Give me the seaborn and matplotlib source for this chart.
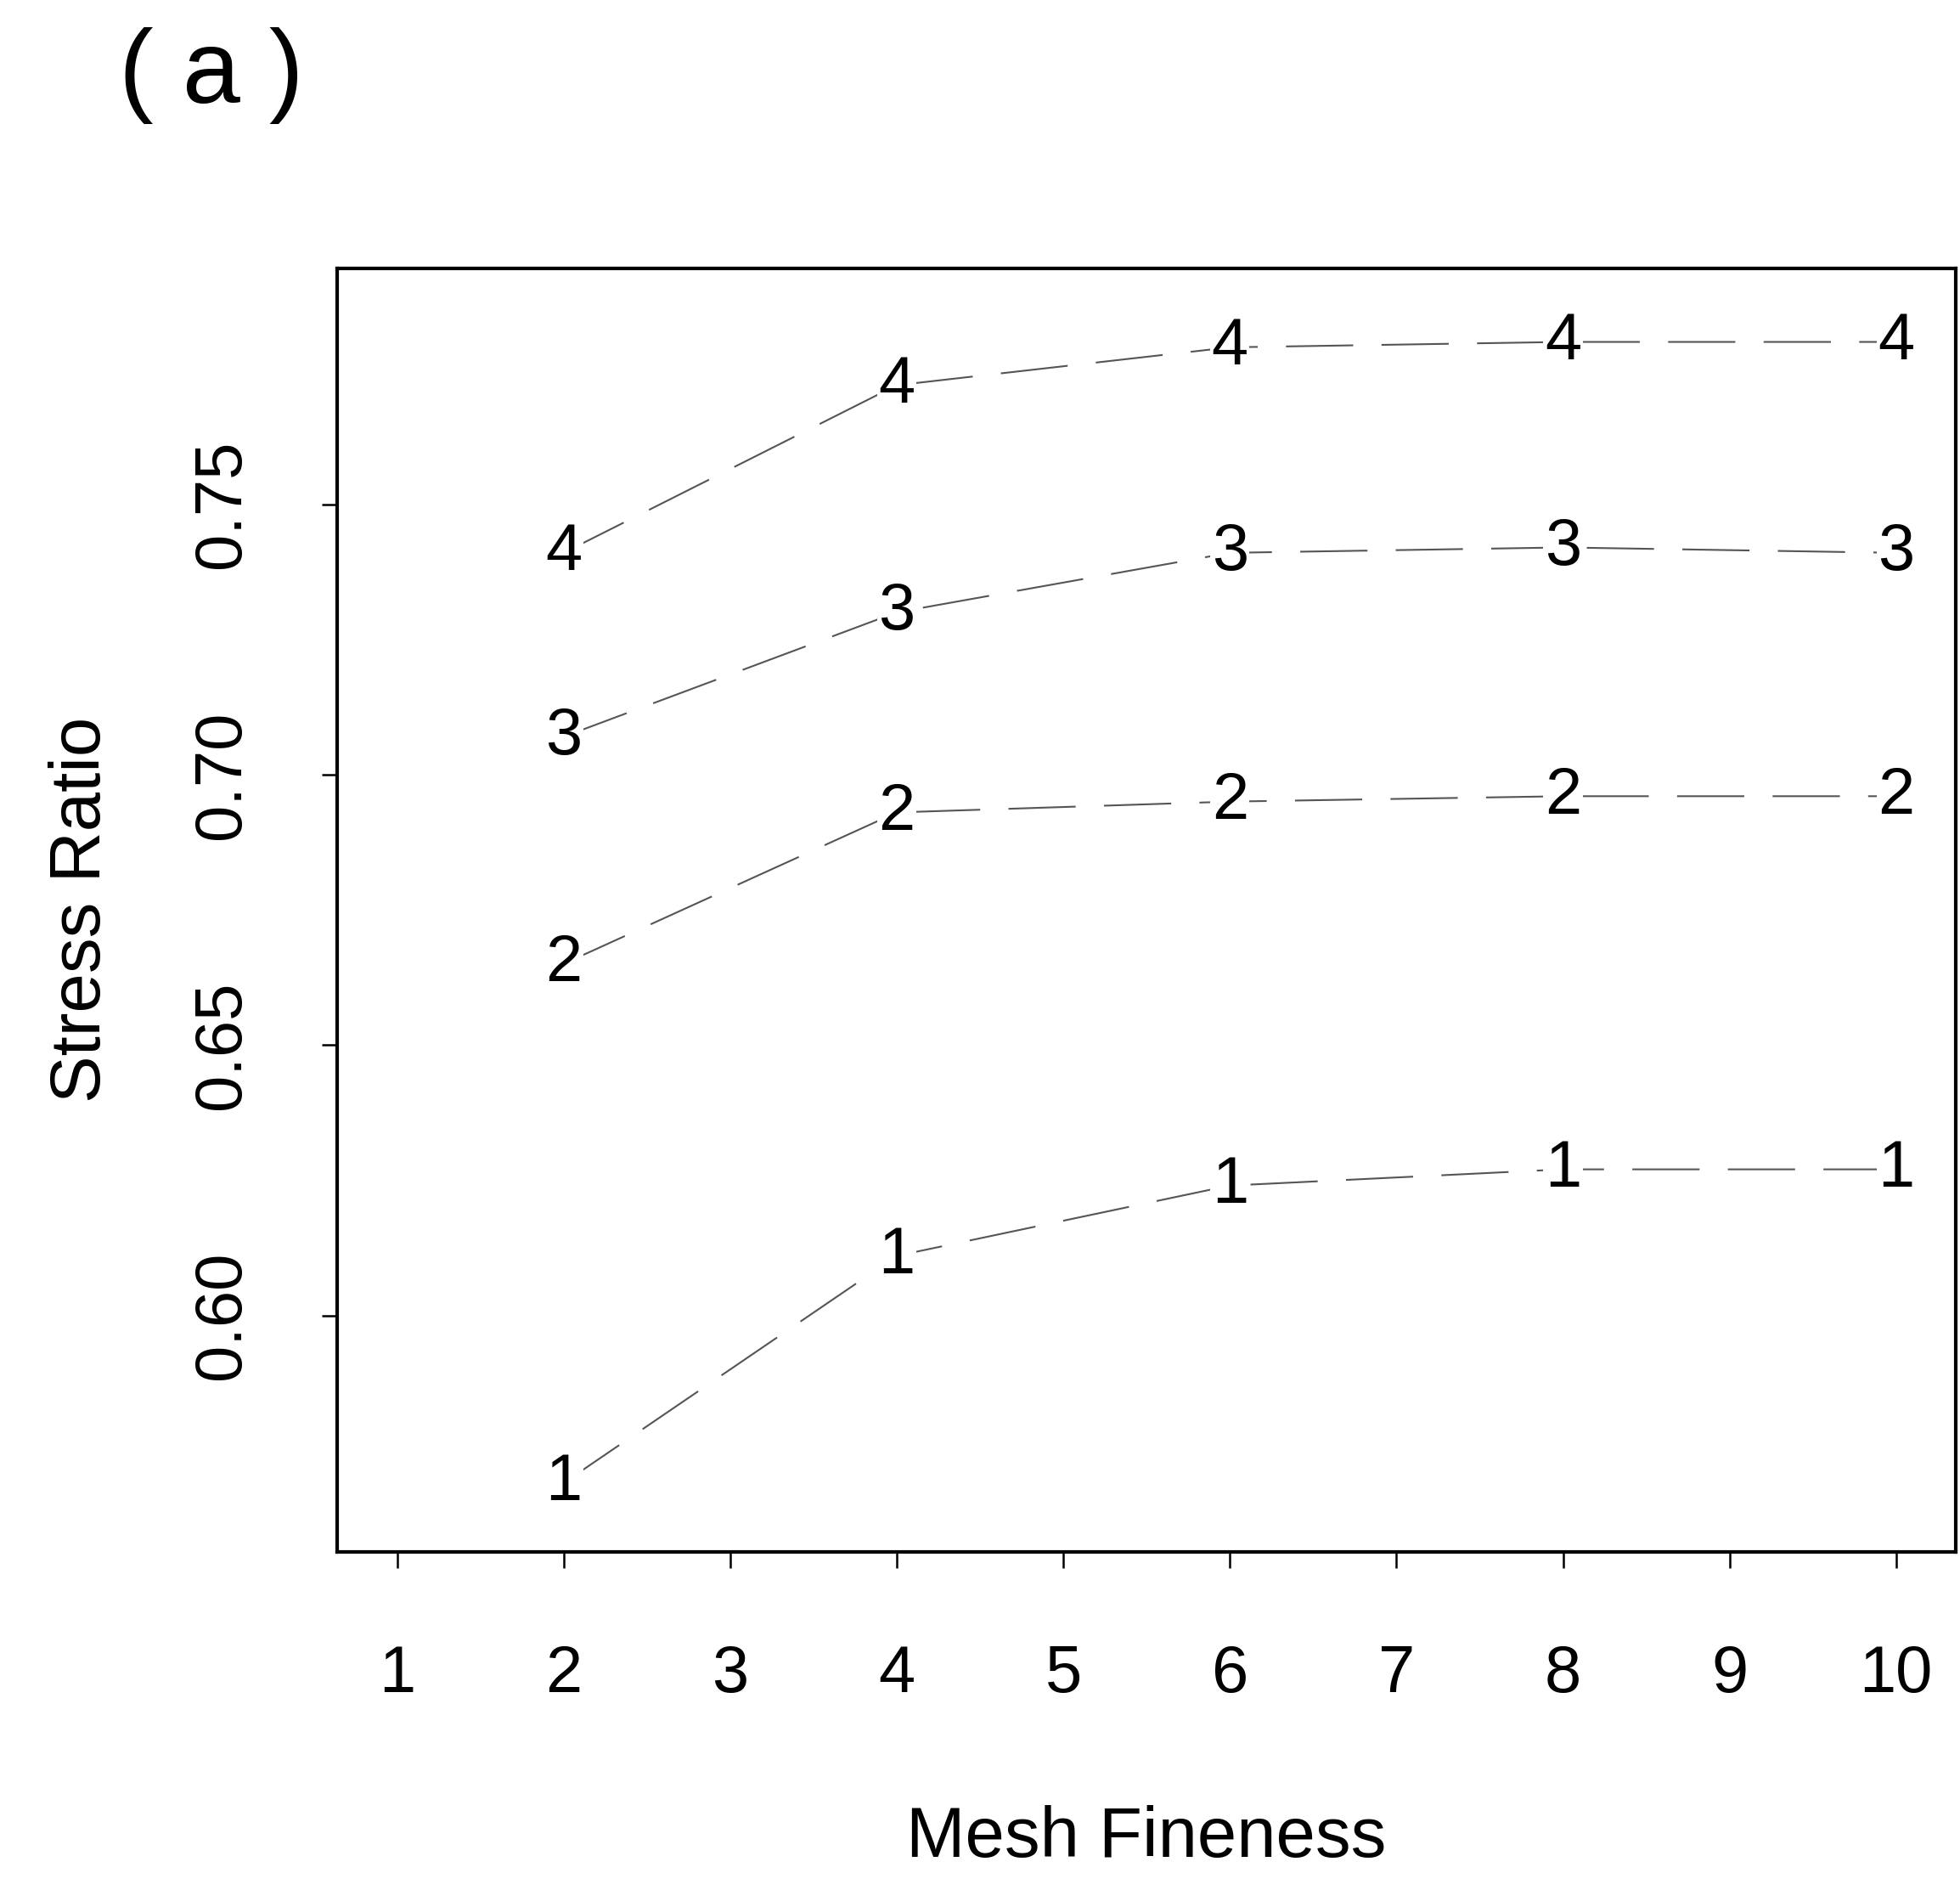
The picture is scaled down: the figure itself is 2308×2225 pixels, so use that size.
import numpy as np
import pandas as pd
import matplotlib
matplotlib.use("Agg")
import matplotlib.pyplot as plt
import seaborn as sns

# values
mesh = [2, 4, 6, 8, 10]
ratio_1 = [0.569, 0.611, 0.624, 0.627, 0.627]
ratio_2 = [0.665, 0.693, 0.695, 0.696, 0.696]
ratio_3 = [0.707, 0.730, 0.741, 0.742, 0.741]
ratio_4 = [0.741, 0.772, 0.779, 0.780, 0.780]
series = ["1", "2", "3", "4"]
x_ticks = list(range(1, 11))
y_ticks = [0.60, 0.65, 0.70, 0.75]

df = pd.DataFrame({
    "mesh": mesh * 4,
    "ratio": ratio_1 + ratio_2 + ratio_3 + ratio_4,
    "series": np.repeat(series, len(mesh)),
})

sns.set_style("ticks")
plt.rcParams["font.family"] = ["Liberation Sans", "DejaVu Sans"]
plt.rcParams["text.color"] = "black"
plt.rcParams["axes.labelcolor"] = "black"
plt.rcParams["xtick.color"] = "black"
plt.rcParams["ytick.color"] = "black"

fig = plt.figure(figsize=(23.08, 22.25), dpi=100)
ax = fig.add_axes([0.172, 0.179, 0.826, 0.679])

sns.lineplot(data=df, x="mesh", y="ratio", hue="series",
             palette=["#555555"] * 4, legend=False, linewidth=1.5,
             linestyle=(0, (38, 16)), ax=ax)

# R style type="b": plotting characters sit on the points with a gap
for _, row in df.iterrows():
    ax.text(row["mesh"], row["ratio"], row["series"], fontsize=56,
            ha="center", va="center", zorder=5, color="black",
            bbox=dict(facecolor="white", edgecolor="none", pad=1))

ax.set_xlim(0.64, 10.36)
ax.set_ylim(0.5563, 0.7936)
ax.set_xticks(x_ticks)
ax.set_xticklabels([str(t) for t in x_ticks], fontsize=56)
ax.set_yticks(y_ticks)
ax.set_yticklabels([f"{t:.2f}" for t in y_ticks], fontsize=56,
                   rotation=90, va="center")
ax.tick_params(axis="x", direction="out", length=14, width=1.8, pad=64,
               color="black", labelcolor="black")
ax.tick_params(axis="y", direction="out", length=13, width=1.8, pad=58,
               color="black", labelcolor="black")

for sp in ax.spines.values():
    sp.set_visible(True)
    sp.set_linewidth(3)
    sp.set_color("black")

ax.set_xlabel("Mesh Fineness", fontsize=60)
ax.set_ylabel("Stress Ratio", fontsize=60)
ax.xaxis.set_label_coords(0.5, -0.223)
ax.xaxis.label.set_va("center")
ax.yaxis.set_label_coords(-0.158, 0.5)
ax.yaxis.label.set_va("center")

fig.text(0.108, 0.960, "( a )", fontsize=88, ha="center", va="center")

fig.savefig("out.png", dpi=100)
